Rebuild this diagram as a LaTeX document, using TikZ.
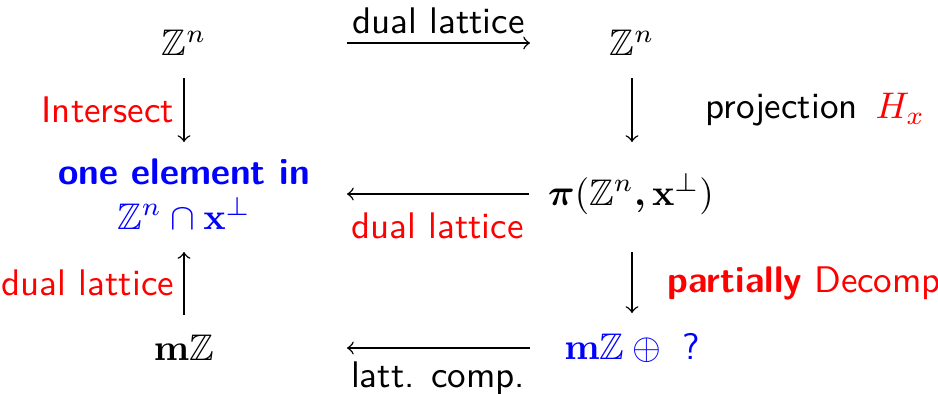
\documentclass[tikz,border=0pt]{standalone}
\usepackage{amsmath,amssymb,bm}
\renewcommand{\familydefault}{\sfdefault}
\begin{document}
\begin{tikzpicture}[x=0.27pt,y=-0.27pt,
  obj/.style={inner sep=0pt, font=\normalsize},
  arr/.style={->, >=to, line width=0.4pt}]
\useasboundingbox (0,0) rectangle (938,393);
\definecolor{myred}{RGB}{255,0,0}
\definecolor{myblue}{RGB}{0,0,255}
% nodes
\node[obj] (a) at (184,43) {$\mathbb{Z}^n$};
\node[obj] (b) at (632,43) {$\mathbb{Z}^n$};
\node[obj, align=center, text=myblue] (c) at (184,194)
  {\textbf{one element in}\\ $\mathbb{Z}^n\cap\mathbf{x}^{\perp}$};
\node[obj] (d) at (631,194) {$\bm{\pi}(\mathbb{Z}^n\bm{,}\mathbf{x}^{\perp})$};
\node[obj, text=myblue] (f) at (632,348) {$\mathbf{m}\mathbb{Z}\oplus{}$ ?};
\node[obj] (e) at (184,348) {$\mathbf{m}\mathbb{Z}$};
% horizontal arrows
\draw[arr, shorten <=163*0.27pt, shorten >=102*0.27pt] (a.center) -- (b.center)
  node[pos=0.568, above, inner sep=2.2pt] {dual lattice};
\draw[arr, shorten <=102*0.27pt, shorten >=163*0.27pt] (d.center) -- (c.center)
  node[pos=0.433, below, inner sep=4.9pt, text=myred] {dual lattice};
\draw[arr, shorten <=102*0.27pt, shorten >=163*0.27pt] (f.center) -- (e.center)
  node[pos=0.433, below, inner sep=3.4pt] {latt. comp.};
% vertical arrows
\draw[arr, shorten <=35*0.27pt, shorten >=52*0.27pt] (a.center) -- (c.center)
  node[pos=0.444, left, inner sep=2.5pt, text=myred] {Intersect};
\draw[arr, shorten <=35*0.27pt, shorten >=52*0.27pt] (b.center) -- (b.center |- d.center)
  node[pos=0.444, right, inner sep=0pt, xshift=73*0.27pt] {projection\hspace{1.5pt} \textcolor{myred}{$H_x$}};
\draw[arr, shorten <=33*0.27pt, shorten >=58*0.27pt] (e.center) -- (c.center)
  node[pos=0.422, left, inner sep=2.5pt, text=myred] {dual lattice};
\draw[arr, shorten <=58*0.27pt, shorten >=35*0.27pt] (b.center |- d.center) -- (f.center)
  node[pos=0.578, right, inner sep=0pt, xshift=35*0.27pt, text=myred] {\textbf{partially} Decomp};
\end{tikzpicture}
\end{document}
